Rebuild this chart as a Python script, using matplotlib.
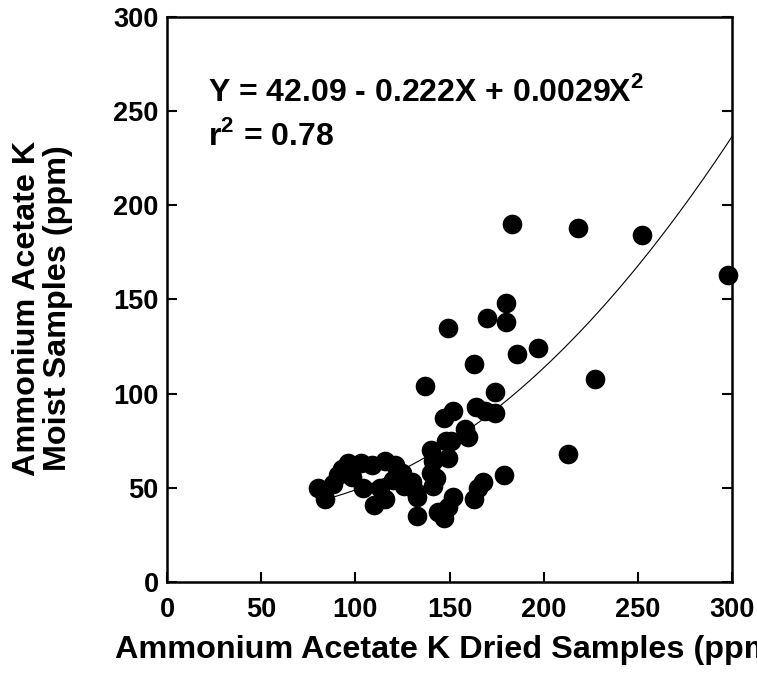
import numpy as np
import matplotlib
matplotlib.use("Agg")
import matplotlib.pyplot as plt

plt.rcParams['font.family'] = ['Liberation Sans', 'DejaVu Sans']
plt.rcParams['mathtext.fontset'] = 'custom'
plt.rcParams['mathtext.rm'] = 'Liberation Sans'
plt.rcParams['mathtext.bf'] = 'Liberation Sans:bold'

# Data
dried_k = [80, 84, 88, 91, 93, 96, 98, 103, 104, 109, 110, 113, 116, 116, 121, 120, 125, 126, 130, 133, 133,
           132, 140, 141, 140, 143, 141, 148, 151, 149, 147, 152, 158, 160, 164, 169, 174, 174,
           144, 147, 149, 152, 163, 165, 168, 179, 213,
           137, 149, 163, 170, 180, 180, 186, 197, 227, 183, 218, 252, 298]
moist_k = [50, 44, 52, 57, 60, 63, 56, 63, 50, 62, 41, 50, 64, 44, 62, 54, 58, 51, 53, 45, 35,
           48, 70, 64, 58, 55, 51, 75, 75, 66, 87, 91, 81, 77, 93, 91, 90, 101,
           37, 34, 40, 45, 44, 50, 53, 57, 68,
           104, 135, 116, 140, 148, 138, 121, 124, 108, 190, 188, 184, 163]

# Quadratic fit coefficients (from the equation in the chart)
coef_a, coef_b, coef_c = 42.09, -0.222, 0.0029
fit_range = [86, 300]

x_ticks = [0, 50, 100, 150, 200, 250, 300]
y_ticks = [0, 50, 100, 150, 200, 250, 300]

fig = plt.figure(figsize=(7.57, 6.79), dpi=100)
ax = fig.add_axes([167/757, 1 - 582/679, (732-167)/757, (582-17)/679])

ax.scatter(dried_k, moist_k, s=200, color='black', zorder=3, linewidths=0, clip_on=False)
xf = np.linspace(fit_range[0], fit_range[1], 200)
ax.plot(xf, coef_a + coef_b*xf + coef_c*xf**2, color='black', lw=0.8, zorder=2)

ax.set_xlim(0, 300)
ax.set_ylim(0, 300)
ax.set_xticks(x_ticks)
ax.set_yticks(y_ticks)
ax.tick_params(direction='in', length=7, width=1.5, right=True, top=False, labelsize=19.5)
ax.tick_params(axis='x', pad=11)
ax.tick_params(axis='y', pad=6)
for lab in ax.get_xticklabels() + ax.get_yticklabels():
    lab.set_fontweight('bold')
for sp in ax.spines.values():
    sp.set_linewidth(1.8)

ax.set_xlabel('Ammonium Acetate K Dried Samples (ppm)', fontsize=23.3, fontweight='bold')
ax.xaxis.set_label_coords(0.5, -0.093)
ax.set_ylabel('Ammonium Acetate K\nMoist Samples (ppm)', fontsize=23.3, fontweight='bold',
              linespacing=1.05)
ax.yaxis.set_label_coords(-0.166, 0.485)

ax.text(0.073, 0.867, r'Y = 42.09 - 0.222X + 0.0029X$^{\mathbf{2}}$', transform=ax.transAxes,
        fontsize=23, fontweight='bold', va='center', ha='left')
ax.text(0.073, 0.79, r'r$^{\mathbf{2}}$ = 0.78', transform=ax.transAxes,
        fontsize=23, fontweight='bold', va='center', ha='left')

fig.savefig('out.png', dpi=100)
